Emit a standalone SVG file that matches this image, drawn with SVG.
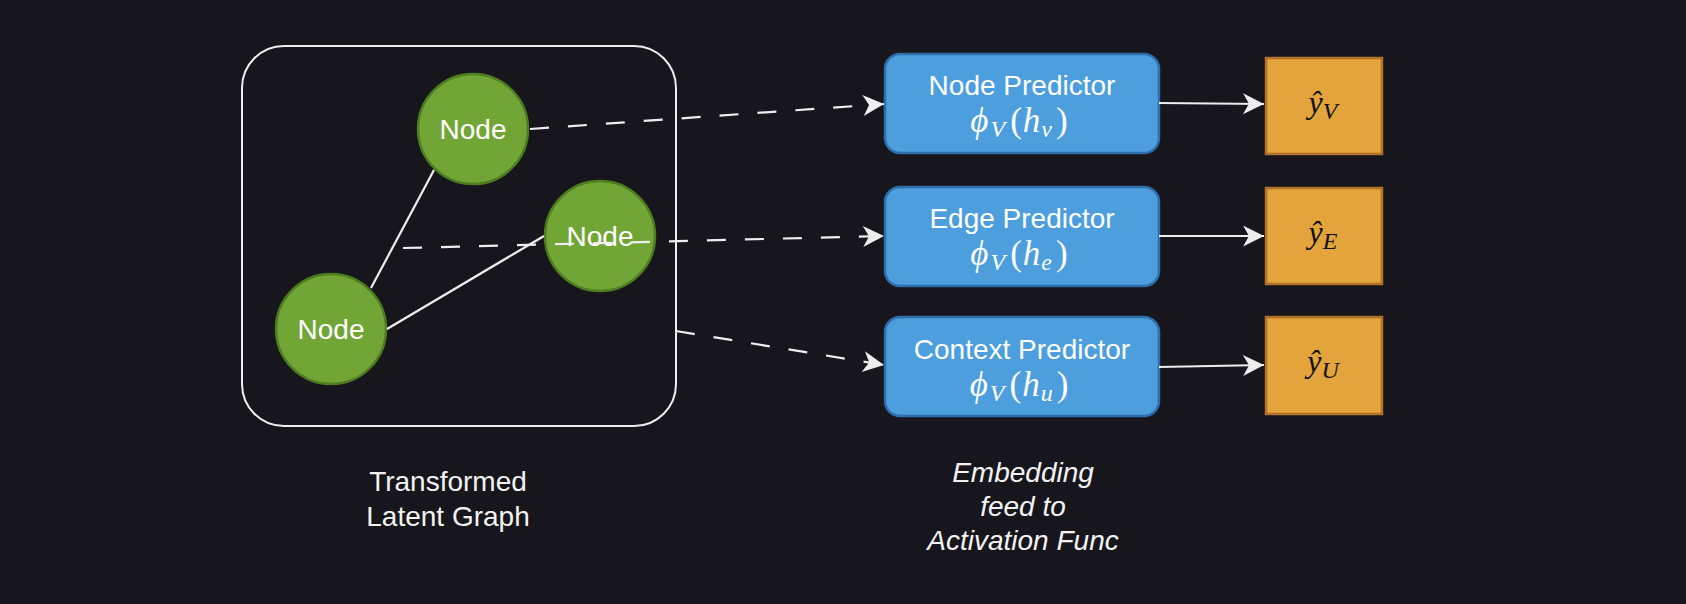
<svg xmlns="http://www.w3.org/2000/svg" width="1686" height="604" viewBox="0 0 1686 604">
<style>
.bg{fill:#18161d}
.frame{fill:none;stroke:#eeeeee;stroke-width:2}
.node circle{fill:#71a637;stroke:#4d7d1f;stroke-width:2.5}
.lbl{font-family:"Liberation Sans",Arial,sans-serif;font-size:28px;fill:#ffffff;text-anchor:middle}
.cap{font-family:"Liberation Sans",Arial,sans-serif;font-size:28px;fill:#f2f2f2;text-anchor:middle}
.ital{font-style:italic}
.pred rect{fill:#4d9edd;stroke:#2f6ead;stroke-width:2.5}
.out rect{fill:#e3a43c;stroke:#b1712a;stroke-width:2.5}
.math{font-family:"Liberation Serif","DejaVu Serif",serif;font-size:35px;text-anchor:middle}
.mo{font-size:32px}
.mw{fill:#ffffff}
.mb{fill:#111111}
.it{font-style:italic}
.sub{font-size:24px;font-style:italic}
.conn line,.conn path{stroke:#eeeeee;stroke-width:2.2;fill:none}
.dash{stroke-dasharray:19 19}
</style>
<defs>
<marker id="arr" markerUnits="userSpaceOnUse" markerWidth="24" markerHeight="24" viewBox="-22 -12 24 24" refX="0" refY="0" orient="auto">
<path d="M0,0 L-21,-10.5 L-15,0 L-21,10.5 Z" fill="#eeeeee"/>
</marker>
</defs>
<rect class="bg" x="0" y="0" width="1686" height="604"/>

<g id="latent-graph">
<rect class="frame" x="242" y="46" width="434" height="380" rx="42" ry="42"/>
</g>

<g id="node-top" class="node">
<circle cx="473" cy="129" r="55"/>
<text class="lbl" x="473" y="139">Node</text>
</g>
<g id="node-right" class="node">
<circle cx="600" cy="236" r="55"/>
<text class="lbl" x="600" y="246">Node</text>
</g>
<g id="node-bottom" class="node">
<circle cx="331" cy="329" r="55"/>
<text class="lbl" x="331" y="339">Node</text>
</g>

<g id="node-predictor" class="pred">
<rect x="885" y="54" width="274" height="99" rx="15" ry="15"/>
<text class="lbl" x="1022" y="95">Node Predictor</text>
<text class="math mw" x="1019" y="132"><tspan class="it">ϕ</tspan><tspan class="sub" dy="5" dx="2">V</tspan><tspan dy="-5" dx="5">(</tspan><tspan class="it" dx="1">h</tspan><tspan class="sub" dy="5" dx="1">v</tspan><tspan dy="-5" dx="4">)</tspan></text>
</g>
<g id="edge-predictor" class="pred">
<rect x="885" y="187" width="274" height="99" rx="15" ry="15"/>
<text class="lbl" x="1022" y="228">Edge Predictor</text>
<text class="math mw" x="1019" y="265"><tspan class="it">ϕ</tspan><tspan class="sub" dy="5" dx="2">V</tspan><tspan dy="-5" dx="5">(</tspan><tspan class="it" dx="1">h</tspan><tspan class="sub" dy="5" dx="1">e</tspan><tspan dy="-5" dx="4">)</tspan></text>
</g>
<g id="context-predictor" class="pred">
<rect x="885" y="317" width="274" height="99" rx="15" ry="15"/>
<text class="lbl" x="1022" y="359">Context Predictor</text>
<text class="math mw" x="1019" y="396"><tspan class="it">ϕ</tspan><tspan class="sub" dy="5" dx="2">V</tspan><tspan dy="-5" dx="5">(</tspan><tspan class="it" dx="1">h</tspan><tspan class="sub" dy="5" dx="1">u</tspan><tspan dy="-5" dx="4">)</tspan></text>
</g>

<g id="out-v" class="out">
<rect x="1266" y="58" width="116" height="96"/>
<text class="math mo mb" x="1323" y="113"><tspan class="it">ŷ</tspan><tspan class="sub" dy="6">V</tspan></text>
</g>
<g id="out-e" class="out">
<rect x="1266" y="188" width="116" height="96"/>
<text class="math mo mb" x="1323" y="243"><tspan class="it">ŷ</tspan><tspan class="sub" dy="6">E</tspan></text>
</g>
<g id="out-u" class="out">
<rect x="1266" y="317" width="116" height="97"/>
<text class="math mo mb" x="1323" y="372"><tspan class="it">ŷ</tspan><tspan class="sub" dy="6">U</tspan></text>
</g>

<g id="caption-graph">
<text class="cap" x="448" y="491">Transformed</text>
<text class="cap" x="448" y="526">Latent Graph</text>
</g>
<g id="caption-embedding">
<text class="cap ital" x="1023" y="482">Embedding</text>
<text class="cap ital" x="1023" y="516">feed to</text>
<text class="cap ital" x="1023" y="550">Activation Func</text>
</g>

<g id="connectors" class="conn">
<line x1="434" y1="170" x2="371" y2="288"/>
<line x1="544" y1="236" x2="387" y2="329"/>
<line class="dash" x1="530" y1="129" x2="884" y2="104" marker-end="url(#arr)"/>
<line class="dash" x1="403" y1="248" x2="884" y2="236" marker-end="url(#arr)"/>
<line class="dash" x1="676" y1="331" x2="884" y2="365" marker-end="url(#arr)"/>
<line x1="1159" y1="103" x2="1264" y2="104" marker-end="url(#arr)"/>
<line x1="1159" y1="236" x2="1264" y2="236" marker-end="url(#arr)"/>
<line x1="1159" y1="367" x2="1264" y2="365" marker-end="url(#arr)"/>
</g>
</svg>
